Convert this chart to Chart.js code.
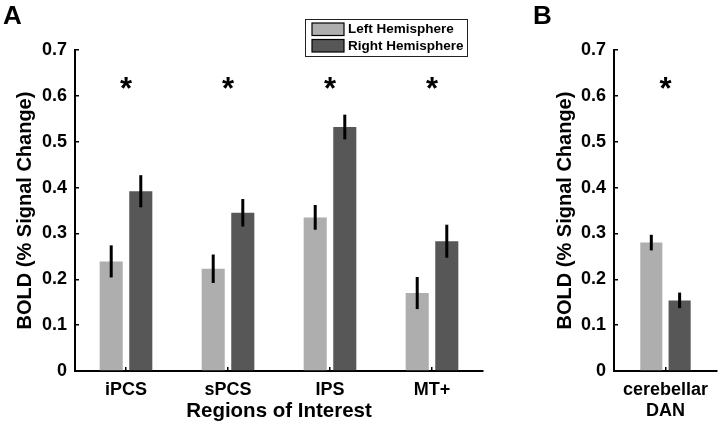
<!DOCTYPE html>
<html lang="en">
<head>
<meta charset="UTF-8"/>
<title>BOLD by hemisphere</title>
<script src="https://cdn.jsdelivr.net/npm/chart.js@4.4.1/dist/chart.umd.min.js"></script>
<style>
  body { margin:0; background:#fff; }
  #wrap { position:relative; width:720px; height:426px; overflow:hidden; }
  canvas { position:absolute; top:0; }
</style>
</head>
<body>
<div id="wrap">
  <canvas id="chartA" width="490" height="426" style="left:0px;"></canvas>
  <canvas id="chartB" width="230" height="426" style="left:490px;"></canvas>
</div>
<script>
// data
var regions = ['iPCS', 'sPCS', 'IPS', 'MT+'];
var leftHemi = [0.239, 0.223, 0.335, 0.170];
var rightHemi = [0.392, 0.345, 0.532, 0.283];
var leftErr = [0.035, 0.031, 0.027, 0.035];
var rightErr = [0.035, 0.030, 0.027, 0.036];
var sigA = [true, true, true, true];

var cereb = [['cerebellar', 'DAN']];
var cerebLeft = [0.280];
var cerebRight = [0.154];
var cerebLeftErr = [0.017];
var cerebRightErr = [0.017];
var sigB = [true];

var yTicks = [0, 0.1, 0.2, 0.3, 0.4, 0.5, 0.6, 0.7];
var starLevel = 0.612;

var lightGrey = '#aeaeae';
var darkGrey = '#575757';
var fontFam = "'Liberation Sans', Arial, Helvetica, sans-serif";

// error bars + significance stars
var errorBars = {
  id: 'errorBars',
  afterDatasetsDraw: function(chart, args, opts) {
    var ctx = chart.ctx;
    var y = chart.scales.y;
    ctx.save();
    ctx.strokeStyle = '#000';
    ctx.lineWidth = 3;
    chart.data.datasets.forEach(function(ds, i) {
      var meta = chart.getDatasetMeta(i);
      meta.data.forEach(function(bar, j) {
        var v = ds.data[j], e = ds.errors[j];
        ctx.beginPath();
        ctx.moveTo(bar.x, y.getPixelForValue(v + e));
        ctx.lineTo(bar.x, y.getPixelForValue(v - e));
        ctx.stroke();
      });
    });
    ctx.fillStyle = '#000';
    ctx.font = 'bold 31px ' + fontFam;
    ctx.textAlign = 'center';
    ctx.textBaseline = 'middle';
    (opts.sig || []).forEach(function(s, j) {
      if (!s) return;
      ctx.fillText('*', chart.scales.x.getPixelForValue(j), y.getPixelForValue(starLevel));
    });
    ctx.restore();
  }
};

var panelLetter = {
  id: 'panelLetter',
  afterDraw: function(chart, args, opts) {
    var ctx = chart.ctx;
    ctx.save();
    ctx.fillStyle = '#000';
    ctx.font = 'bold 26px ' + fontFam;
    ctx.textAlign = 'left';
    ctx.textBaseline = 'alphabetic';
    ctx.fillText(opts.text, opts.x, opts.y);
    ctx.restore();
  }
};

var boxLegend = {
  id: 'boxLegend',
  afterDraw: function(chart, args, opts) {
    if (!opts.show) return;
    var ctx = chart.ctx;
    ctx.save();
    ctx.fillStyle = '#fff';
    ctx.fillRect(305, 19, 162, 38);
    ctx.strokeStyle = '#222';
    ctx.lineWidth = 1;
    ctx.strokeRect(305.5, 19.5, 162, 37);
    ctx.font = 'bold 13.5px ' + fontFam;
    ctx.textBaseline = 'middle';
    ctx.textAlign = 'left';
    chart.data.datasets.forEach(function(ds, i) {
      var top = 23 + i * 16.5;
      ctx.fillStyle = ds.backgroundColor;
      ctx.fillRect(312, top, 32, 12.5);
      ctx.strokeStyle = '#000';
      ctx.lineWidth = 1.2;
      ctx.strokeRect(312, top, 32, 12.5);
      ctx.fillStyle = '#000';
      ctx.fillText(ds.label, 348, top + 6.5);
    });
    ctx.restore();
  }
};

function makeOptions(yWidth, titlePad, cp, showLegend, sig, letter, showXTitle) {
  return {
    responsive: false,
    animation: false,
    layout: { padding: { top: 50, right: showLegend ? 7 : 0, left: 0, bottom: 0 } },
    plugins: {
      legend: { display: false },
      tooltip: { enabled: false },
      errorBars: { sig: sig },
      panelLetter: letter,
      boxLegend: { show: showLegend }
    },
    datasets: { bar: { categoryPercentage: cp, barPercentage: 0.78 } },
    scales: {
      x: {
        offset: true,
        grid: { offset: false, drawOnChartArea: false, drawTicks: true, tickLength: -4, color: '#000', lineWidth: 1.5 },
        border: { display: true, color: '#000', width: 2 },
        ticks: { color: '#000', padding: 12, font: { family: fontFam, size: 18, weight: 'bold' }, maxRotation: 0, autoSkip: false },
        title: { display: showXTitle, text: 'Regions of Interest', color: '#000', padding: { top: 0, bottom: 2 }, font: { family: fontFam, size: 20.5, weight: 'bold' } },
        afterFit: function(s) { s.height = 55; }
      },
      y: {
        min: 0, max: 0.7,
        afterBuildTicks: function(s) { s.ticks = yTicks.map(function(v) { return { value: v }; }); },
        grid: { drawOnChartArea: false, drawTicks: true, tickLength: -4, color: '#000', lineWidth: 1.5 },
        border: { display: true, color: '#000', width: 2 },
        ticks: { color: '#000', padding: 12, font: { family: fontFam, size: 18, weight: 'bold' } },
        title: { display: true, text: 'BOLD (% Signal Change)', color: '#000', padding: { top: titlePad, bottom: 0 }, font: { family: fontFam, size: 20, weight: 'bold' } },
        afterFit: function(s) { s.width = yWidth; }
      }
    }
  };
}

new Chart(document.getElementById('chartA'), {
  type: 'bar',
  data: {
    labels: regions,
    datasets: [
      { label: 'Left Hemisphere', data: leftHemi, errors: leftErr, backgroundColor: lightGrey },
      { label: 'Right Hemisphere', data: rightHemi, errors: rightErr, backgroundColor: darkGrey }
    ]
  },
  options: makeOptions(75, 13, 0.58, true, sigA, { text: 'A', x: 3, y: 24 }, true),
  plugins: [errorBars, panelLetter, boxLegend]
});

new Chart(document.getElementById('chartB'), {
  type: 'bar',
  data: {
    labels: cereb,
    datasets: [
      { label: 'Left Hemisphere', data: cerebLeft, errors: cerebLeftErr, backgroundColor: lightGrey },
      { label: 'Right Hemisphere', data: cerebRight, errors: cerebRightErr, backgroundColor: darkGrey }
    ]
  },
  options: makeOptions(124, 63, 0.55, false, sigB, { text: 'B', x: 43, y: 24 }, false),
  plugins: [errorBars, panelLetter, boxLegend]
});
</script>
</body>
</html>
